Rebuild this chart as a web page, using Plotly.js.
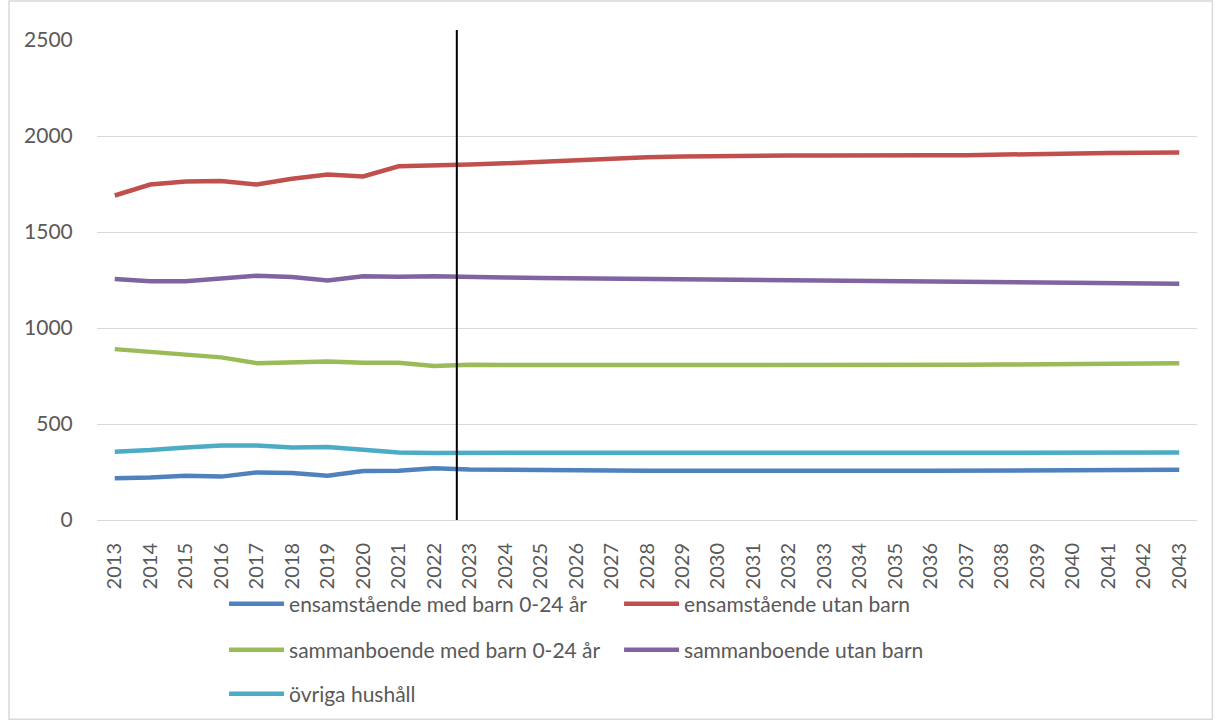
<!DOCTYPE html>
<html>
<head>
<meta charset="utf-8">
<script src="https://cdn.plot.ly/plotly-3.0.1.min.js"></script>
<style>
  html, body { margin: 0; padding: 0; background: #fff; }
  #chart { width: 1217px; height: 720px; }
</style>
</head>
<body>
<div id="chart"></div>
<script>
// Years on the x axis
const years = [2013,2014,2015,2016,2017,2018,2019,2020,2021,2022,2023,2024,2025,2026,2027,2028,2029,2030,2031,2032,2033,2034,2035,2036,2037,2038,2039,2040,2041,2042,2043];

// Number of households per type
const ensamMedBarn = [217,221,231,226,248,245,231,255,257,269,263,261,260,259,258,257,257,256,256,256,256,256,256,256,257,257,258,259,260,261,262];
const ensamUtanBarn = [1690,1747,1763,1765,1747,1777,1799,1789,1842,1844,1851,1858,1866,1874,1883,1889,1893,1893,1894,1898,1899,1901,1900,1900,1900,1904,1907,1909,1912,1913,1914];
const sambMedBarn = [890,876,864,847,817,819,826,819,819,802,808,807,807,806,806,806,805,805,804,804,805,805,806,807,808,810,811,813,814,815,816];
const sambUtanBarn = [1255,1243,1243,1255,1272,1265,1248,1270,1267,1270,1264,1263,1261,1259,1257,1254,1253,1251,1249,1247,1245,1243,1241,1240,1238,1237,1235,1233,1232,1231,1230];
const ovriga = [356,364,378,388,388,378,380,364,352,349,351,350,350,350,350,350,349,350,350,350,350,349,350,350,350,349,349,349,349,350,351];

// Position of the divider between outcome and forecast
const forecastStart = 2022.64;

const font = 'Lato, Open Sans, sans-serif';
const textColor = '#595959';

function series(name, y, color, legend) {
  return {
    type: 'scatter', mode: 'lines', name: name, x: years, y: y,
    line: { color: color, width: 4.5 }, legend: legend
  };
}

const traces = [
  series('ensamstående med barn 0-24 år', ensamMedBarn, '#4F81BD', 'legend'),
  series('ensamstående utan barn', ensamUtanBarn, '#C0504D', 'legend'),
  series('sammanboende med barn 0-24 år', sambMedBarn, '#9BBB59', 'legend2'),
  series('sammanboende utan barn', sambUtanBarn, '#8064A2', 'legend2'),
  series('övriga hushåll', ovriga, '#4BACC6', 'legend3')
];

// Legend rows placed in container coordinates so they never push the plot margins
function legendRow(y) {
  return {
    orientation: 'h', x: 0.1155, xanchor: 'left',
    yref: 'container', y: y, yanchor: 'middle',
    entrywidth: 325, itemwidth: 55,
    font: { family: font, size: 21, color: textColor },
    bgcolor: 'rgba(0,0,0,0)', traceorder: 'normal'
  };
}

const layout = {
  width: 1217, height: 720,
  margin: { l: 97, r: 20, t: 40, b: 200, autoexpand: false },
  paper_bgcolor: '#fff', plot_bgcolor: '#fff',
  showlegend: true,
  xaxis: {
    range: [2012.5, 2043.5], tickmode: 'array', tickvals: years,
    ticktext: years.map(String), tickangle: -90,
    tickfont: { family: font, size: 20, color: textColor },
    showgrid: false, zeroline: false, showline: true,
    linecolor: '#d9d9d9', linewidth: 1, automargin: false,
    ticks: 'outside', ticklen: 14, tickcolor: 'rgba(0,0,0,0)', fixedrange: true
  },
  yaxis: {
    range: [0, 2500], tickvals: [0, 500, 1000, 1500, 2000, 2500],
    tickfont: { family: font, size: 21, color: textColor },
    gridcolor: '#d9d9d9', gridwidth: 1, zeroline: false, showline: false,
    automargin: false,
    ticks: 'outside', ticklen: 19, tickcolor: 'rgba(0,0,0,0)', fixedrange: true
  },
  legend: legendRow(0.1611),
  legend2: legendRow(0.0972),
  legend3: legendRow(0.0361),
  shapes: [
    { type: 'line', xref: 'x', yref: 'paper', x0: forecastStart, x1: forecastStart,
      y0: 0, y1: 1.021, line: { color: '#000', width: 2 } },
    { type: 'rect', xref: 'paper', yref: 'paper', x0: -0.08, x1: 1.014,
      y0: -0.415, y1: 1.081, line: { color: '#d9d9d9', width: 1.5 } }
  ]
};

Plotly.newPlot('chart', traces, layout, { displayModeBar: false, staticPlot: true });
</script>
</body>
</html>
